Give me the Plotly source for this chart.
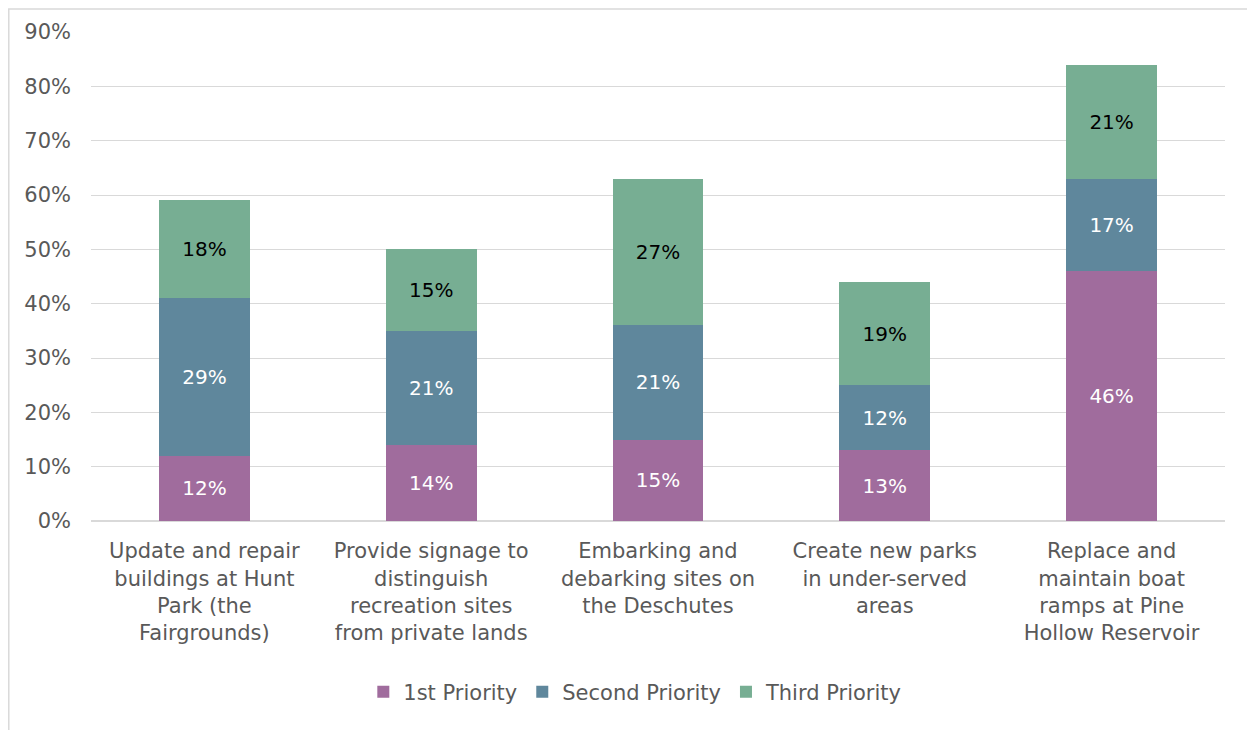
import plotly.graph_objects as go

categories = [
    "Update and repair<br>buildings at Hunt<br>Park (the<br>Fairgrounds)",
    "Provide signage to<br>distinguish<br>recreation sites<br>from private lands",
    "Embarking and<br>debarking sites on<br>the Deschutes",
    "Create new parks<br>in under-served<br>areas",
    "Replace and<br>maintain boat<br>ramps at Pine<br>Hollow Reservoir",
]
first_priority = [12, 14, 15, 13, 46]
second_priority = [29, 21, 21, 12, 17]
third_priority = [18, 15, 27, 19, 21]
series_names = ["1st Priority", "Second Priority", "Third Priority"]
tick_values = [0, 10, 20, 30, 40, 50, 60, 70, 80, 90]
tick_labels = [f"{v}%" for v in tick_values]

FONT = "DejaVu Sans"
colors = ["#a06c9d", "#5f879c", "#77ae93"]
text_colors = ["white", "white", "black"]

fig = go.Figure()
for name, vals, col, tc in zip(series_names,
                               [first_priority, second_priority, third_priority],
                               colors, text_colors):
    fig.add_trace(go.Bar(
        x=categories, y=vals, name=name,
        marker=dict(color=col, line=dict(width=0)),
        text=[f"{v}%" for v in vals],
        textposition="inside", insidetextanchor="middle", textangle=0,
        textfont=dict(family=FONT, size=20, color=tc),
        width=0.4,
    ))

fig.update_layout(
    barmode="stack",
    width=1247, height=722,
    margin=dict(l=83, r=30, t=24, b=209),
    paper_bgcolor="white", plot_bgcolor="white",
    font=dict(family=FONT, color="#595959"),
    showlegend=True,
    legend=dict(orientation="h", x=0.48, xanchor="center", y=-0.35, yanchor="middle",
                font=dict(family=FONT, size=21, color="#595959"),
                traceorder="normal"),
    xaxis=dict(tickfont=dict(family=FONT, size=21, color="#595959"),
               showline=True, linecolor="#d9d9d9", linewidth=1,
               ticks="", ticklabelstandoff=11),
    yaxis=dict(range=[0, 90], tickmode="array", tickvals=tick_values, ticktext=tick_labels,
               tickfont=dict(family=FONT, size=21, color="#595959"),
               showgrid=True, gridcolor="#d9d9d9", gridwidth=1,
               zeroline=True, zerolinecolor="#d9d9d9",
               ticklabelstandoff=19),
    shapes=[dict(type="rect", xref="paper", yref="paper",
                 x0=-0.0725, x1=1.0235, y0=-0.44, y1=1.047,
                 line=dict(color="#d9d9d9", width=1.5), fillcolor="rgba(0,0,0,0)",
                 layer="below")],
)

fig.write_html("out.html")
